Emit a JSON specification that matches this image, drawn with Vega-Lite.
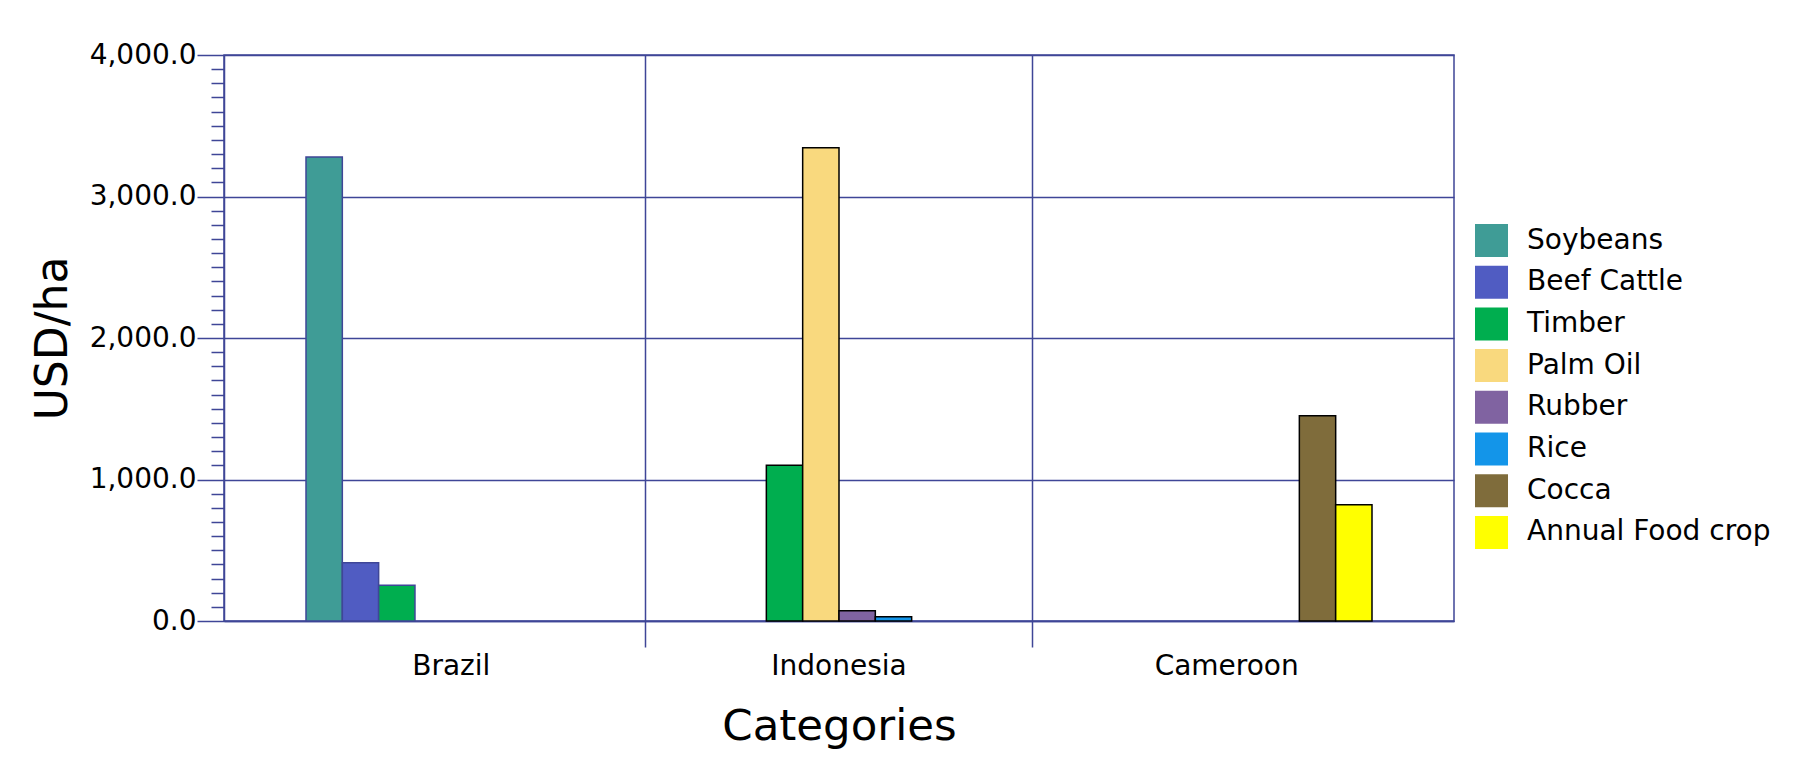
{
  "$schema": "https://vega.github.io/schema/vega-lite/v6.json",
  "width": 1230,
  "height": 566,
  "autosize": {"type": "none"},
  "padding": {"left": 224, "top": 55, "right": 366, "bottom": 149},
  "background": "white",
  "config": {
    "font": "DejaVu Sans",
    "view": {"stroke": "#3F4697", "strokeWidth": 1.5}
  },
  "data": {
    "values": [
      {"Country": "Brazil", "Crop": "Soybeans", "USD_per_ha": 3280},
      {"Country": "Brazil", "Crop": "Beef Cattle", "USD_per_ha": 412},
      {"Country": "Brazil", "Crop": "Timber", "USD_per_ha": 252},
      {"Country": "Indonesia", "Crop": "Timber", "USD_per_ha": 1100},
      {"Country": "Indonesia", "Crop": "Palm Oil", "USD_per_ha": 3345},
      {"Country": "Indonesia", "Crop": "Rubber", "USD_per_ha": 72},
      {"Country": "Indonesia", "Crop": "Rice", "USD_per_ha": 30},
      {"Country": "Cameroon", "Crop": "Cocca", "USD_per_ha": 1450},
      {"Country": "Cameroon", "Crop": "Annual Food crop", "USD_per_ha": 822}
    ]
  },
  "mark": {"type": "bar", "strokeWidth": 1.5},
  "encoding": {
    "x": {
      "field": "Country",
      "type": "nominal",
      "sort": ["Brazil", "Indonesia", "Cameroon"],
      "scale": {"paddingInner": 0.2504, "paddingOuter": 0.2115},
      "axis": {
        "title": "Categories",
        "titleFontSize": 43.5,
        "titleFontWeight": "normal",
        "titleColor": "black",
        "titlePadding": 25,
        "labelFontSize": 28,
        "labelColor": "black",
        "labelAngle": 0,
        "labelPadding": 5,
        "tickSize": 26,
        "tickWidth": 1.5,
        "tickColor": {"condition": {"test": "datum.value === 'Cameroon'", "value": "rgba(0,0,0,0)"}, "value": "#3F4697"},
        "grid": true,
        "gridColor": {"condition": {"test": "datum.value === 'Cameroon'", "value": "rgba(0,0,0,0)"}, "value": "#3F4697"},
        "gridWidth": 1.5,
        "bandPosition": 1.167,
        "domainColor": "#3F4697",
        "domainWidth": 1.5
      }
    },
    "xOffset": {
      "field": "Crop",
      "type": "nominal",
      "scale": {"domain": ["Soybeans", "Beef Cattle", "Timber", "Palm Oil", "Rubber", "Rice", "Cocca", "Annual Food crop"]}
    },
    "y": {
      "field": "USD_per_ha",
      "type": "quantitative",
      "scale": {"domain": [0, 4000], "nice": false},
      "axis": {
        "title": "USD/ha",
        "titleFontSize": 44,
        "titleFontWeight": "normal",
        "titleColor": "black",
        "titlePadding": 14,
        "tickCount": 40,
        "labelExpr": "datum.value % 1000 === 0 ? format(datum.value, ',.1f') : ''",
        "labelOverlap": false,
        "labelFlush": false,
        "labelFontSize": 28,
        "labelColor": "black",
        "labelPadding": 1,
        "tickSize": {"condition": {"test": "datum.value % 1000 === 0", "value": 27}, "value": 13},
        "tickWidth": 1.5,
        "tickColor": "#3F4697",
        "grid": true,
        "gridColor": "#3F4697",
        "gridOpacity": {"condition": {"test": "datum.value % 1000 === 0", "value": 1}, "value": 0},
        "gridWidth": 1.5,
        "domainColor": "#3F4697",
        "domainWidth": 1.5
      }
    },
    "color": {
      "field": "Crop",
      "type": "nominal",
      "scale": {
        "domain": ["Soybeans", "Beef Cattle", "Timber", "Palm Oil", "Rubber", "Rice", "Cocca", "Annual Food crop"],
        "range": ["#3F9C96", "#505CC2", "#00AE4F", "#F9D97E", "#8063A1", "#1395E9", "#7F6C3B", "#FFFF00"]
      },
      "legend": {
        "title": null,
        "orient": "none",
        "legendX": 1251,
        "legendY": 169,
        "symbolType": "square",
        "symbolSize": 1089,
        "symbolStrokeWidth": 0,
        "labelFontSize": 28,
        "labelColor": "black",
        "labelOffset": 19,
        "rowPadding": 8.7,
        "labelLimit": 400
      }
    },
    "stroke": {
      "field": "Country",
      "type": "nominal",
      "scale": {"domain": ["Brazil", "Indonesia", "Cameroon"], "range": ["#3F4697", "#000000", "#000000"]},
      "legend": null
    }
  }
}
